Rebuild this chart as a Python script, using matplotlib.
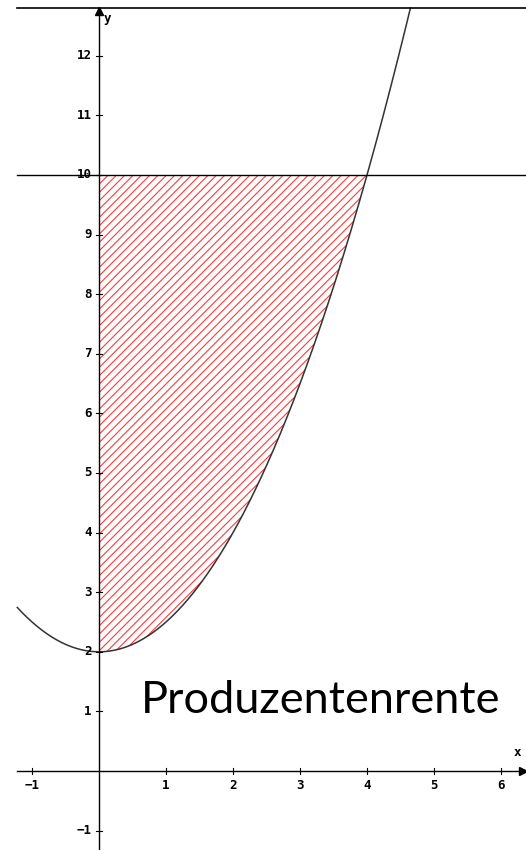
import numpy as np
import matplotlib.pyplot as plt

# Parabel y = a*x^2 + c (Angebotskurve), Preisniveau p
a = 0.5
c = 2.0
p = 10.0
x0, x1 = 0.0, 4.0            # Bereich der Produzentenrente
x_ticks = [-1, 1, 2, 3, 4, 5, 6]
y_ticks = [-1, 1, 2, 3, 4, 5, 6, 7, 8, 9, 10, 11, 12]

xmin, xmax = -1.478, 6.373
ymin, ymax = -1.3255, 12.936
left = -1.22
top = 12.80

plt.rcParams['hatch.linewidth'] = 0.8

fig = plt.figure(figsize=(5.26, 8.5), dpi=100)
ax = fig.add_axes([0, 0, 1, 1])
ax.set_xlim(xmin, xmax)
ax.set_ylim(ymin, ymax)
ax.axis('off')

# schraffierte Flaeche
xs = np.linspace(x0, x1, 200)
ax.fill_between(xs, a * xs**2 + c, p, facecolor='none', edgecolor='#ff3838',
                hatch='////', linewidth=0)

# Kurve (oben am Rahmen abgeschnitten)
xc = np.linspace(left, np.sqrt((top - c) / a), 400)
ax.plot(xc, a * xc**2 + c, color='#333333', lw=1.1)

# horizontale Linien
ax.plot([left, xmax], [p, p], color='black', lw=1)
ax.plot([left, xmax], [top, top], color='black', lw=1.2)

# Achsen
ax.plot([left, 6.33], [0, 0], color='black', lw=1)
ax.plot([0, 0], [ymin, 12.75], color='black', lw=1)
ax.plot(6.33, 0, marker='>', color='black', ms=6)
ax.plot(0, 12.75, marker='^', color='black', ms=6)

tfont = dict(family='DejaVu Sans Mono', weight='bold', size=9)
for t in x_ticks:
    ax.plot([t, t], [-0.05, 0.05], color='black', lw=0.8)
    ax.text(t, -0.13, str(t).replace('-', '\u2212'), ha='center', va='top', **tfont)
for t in y_ticks:
    ax.plot([-0.05, 0.05], [t, t], color='black', lw=0.8)
    ax.text(-0.11, t, str(t).replace('-', '\u2212'), ha='right', va='center', **tfont)

ax.text(6.25, 0.2, 'x', ha='center', va='bottom', **tfont)
ax.text(0.12, 12.62, 'y', ha='center', va='center', **tfont)

ax.text(0.63, 1.18, 'Produzentenrente', ha='left', va='center',
        family='Lato', size=32.5)

fig.savefig('out.png', dpi=100)
